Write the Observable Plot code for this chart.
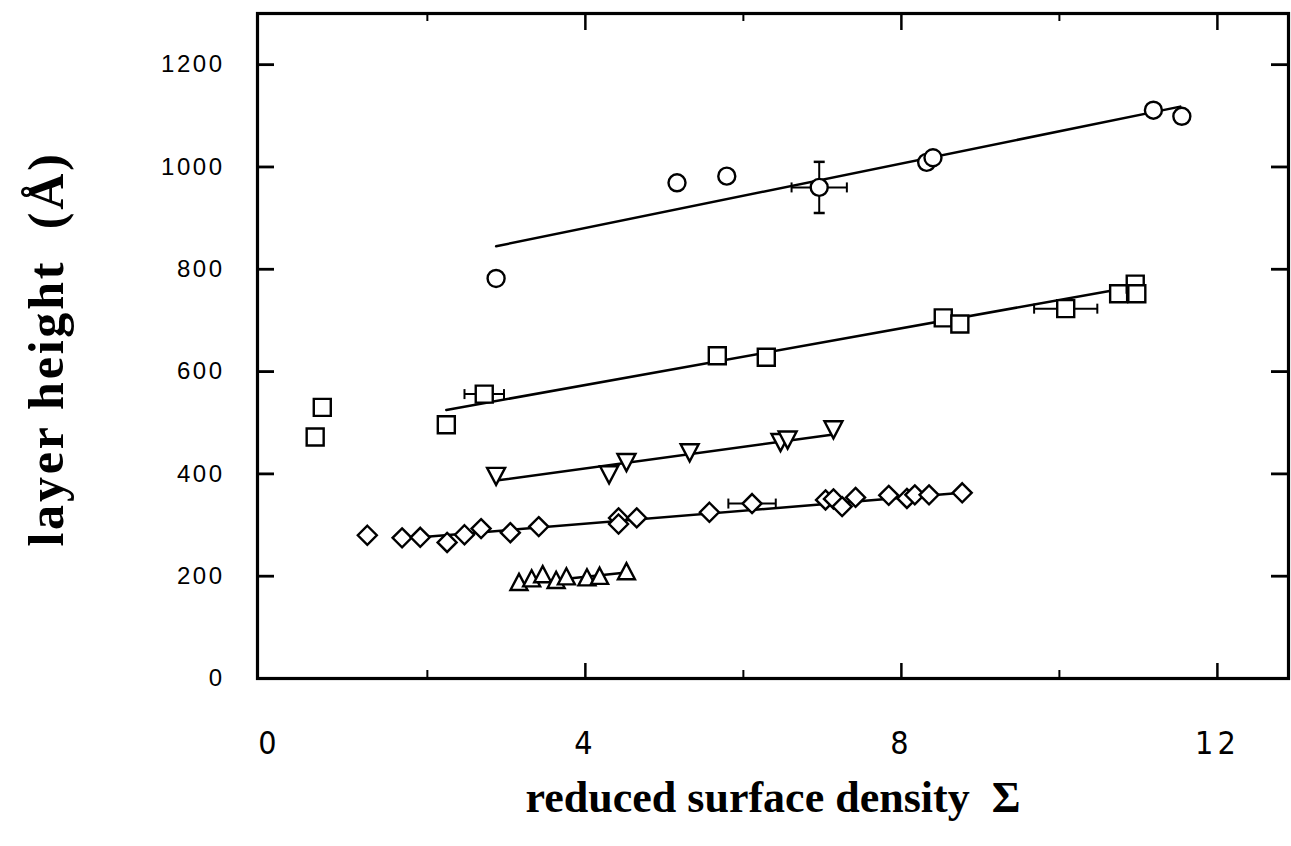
<!DOCTYPE html>
<html><head><meta charset="utf-8">
<script src="https://cdn.jsdelivr.net/npm/d3@7"></script>
<script src="https://cdn.jsdelivr.net/npm/@observablehq/plot@0.6"></script>
<style>
html,body{margin:0;padding:0;background:#fff;}
#chart svg{display:block;}
#chart svg [aria-label="y-axis tick label"]{font-size:24px;font-family:'Liberation Sans',Arial,sans-serif;}
#chart svg [aria-label="y-axis tick label"] text{letter-spacing:2.5px;}
#chart svg [aria-label="x-axis tick label"]{font-size:32px;font-family:'Liberation Sans Narrow','Arial Narrow','DejaVu Sans Condensed',sans-serif;}
#chart svg [aria-label="x-axis tick label"] text{letter-spacing:4px;}
</style>
</head><body><div id="chart"></div>
<script>
// ---- data ----
const circleX = [2.87, 5.16, 5.79, 6.96, 8.32, 8.40, 11.19, 11.55];
const circleY = [782, 969, 982, 960, 1009, 1018, 1111, 1099];
const circleFitX = [2.87, 11.53];
const circleFitY = [845, 1118];

const squareX = [0.58, 0.67, 2.24, 2.72, 5.67, 6.29, 8.53, 8.74, 10.08, 10.75, 10.96, 10.98];
const squareY = [472, 530, 496, 556, 631, 628, 705, 693, 723, 752, 771, 752];
const squareFitX = [2.24, 10.9];
const squareFitY = [525, 765];

const triDownX = [2.87, 4.30, 4.52, 5.32, 6.47, 6.56, 7.14];
const triDownY = [396, 399, 423, 442, 462, 467, 487];
const triDownFitX = [2.87, 7.14];
const triDownFitY = [387, 477];

const diamondX = [1.24, 1.68, 1.91, 2.25, 2.47, 2.68, 3.05, 3.41, 4.42, 4.42, 4.65, 5.57, 6.11, 7.04, 7.14, 7.25, 7.42, 7.84, 8.07, 8.17, 8.35, 8.77];
const diamondY = [280, 275, 276, 266, 281, 293, 285, 297, 314, 302, 314, 325, 342, 349, 351, 336, 354, 358, 352, 359, 359, 363];
const diamondFitX = [1.91, 8.77];
const diamondFitY = [276, 363];

const triUpX = [3.16, 3.32, 3.46, 3.63, 3.76, 4.02, 4.18, 4.52];
const triUpY = [188, 195, 203, 192, 199, 197, 200, 209];
const triUpFitX = [3.16, 4.52];
const triUpFitY = [185, 207];

// error bars: centre and half-widths
const errX  = [6.96, 2.72, 10.08, 6.11];
const errY  = [960, 556, 723, 342];
const errDX = [0.35, 0.25, 0.4, 0.3];
const errDY = [50, 0, 0, 0];

const xTickLabels = [0, 4, 8, 12];
const xMajorTicks = [4, 8, 12];
const xMinorTicks = [2, 6, 10];
const yTickLabels = [0, 200, 400, 600, 800, 1000, 1200];
const yTicks = [200, 400, 600, 800, 1000, 1200];

const xTitle = "reduced surface density  Σ";
const yTitle = "layer height  (Å)";

// ---- build tables ----
const pts = (xs, ys) => xs.map((x, i) => ({x, y: ys[i]}));
const circles = pts(circleX, circleY);
const squares = pts(squareX, squareY);
const triDowns = pts(triDownX, triDownY);
const diamonds = pts(diamondX, diamondY);
const triUps = pts(triUpX, triUpY);
const fits = [
  pts(circleFitX, circleFitY), pts(squareFitX, squareFitY), pts(triDownFitX, triDownFitY),
  pts(diamondFitX, diamondFitY), pts(triUpFitX, triUpFitY)
];
const errs = errX.map((x, i) => ({x, y: errY[i], dx: errDX[i], dy: errDY[i]}));
const vErr = errs.filter(d => d.dy > 0);
const hErr = errs.filter(d => d.dx > 0);

// ---- custom symbols (pixel sized) ----
const sym = f => ({draw(ctx, size) { f(ctx, Math.sqrt(size / Math.PI)); }});
const circleSym = sym((c, h) => { c.moveTo(h, 0); c.arc(0, 0, h, 0, 2 * Math.PI); });
const squareSym = sym((c, h) => { c.rect(-h, -h, 2 * h, 2 * h); });
const diamondSym = sym((c, h) => { c.moveTo(0, -h); c.lineTo(h, 0); c.lineTo(0, h); c.lineTo(-h, 0); c.closePath(); });
const triUpSym = sym((c, h) => { c.moveTo(0, -h); c.lineTo(h, h * 0.9); c.lineTo(-h, h * 0.9); c.closePath(); });
const triDownSym = sym((c, h) => { c.moveTo(0, h); c.lineTo(h, -h * 0.9); c.lineTo(-h, -h * 0.9); c.closePath(); });
const hCap = sym((c, h) => { c.moveTo(-h, 0); c.lineTo(h, 0); });
const vCap = sym((c, h) => { c.moveTo(0, -h); c.lineTo(0, h); });

const W = 1291, H = 846, ML = 257, MR = 3, MT = 13, MB = 168;
const FW = W - ML - MR, FH = H - MT - MB;
const serif = "'Liberation Serif', 'Times New Roman', serif";
const mk = {stroke: "black", strokeWidth: 2.4, fill: "white"};

const chart = Plot.plot({
  width: W, height: H,
  marginLeft: ML, marginRight: MR, marginTop: MT, marginBottom: MB,
  x: {domain: [-0.15, 12.9]},
  y: {domain: [0, 1300]},
  style: {background: "white", color: "black"},
  marks: [
    Plot.frame({strokeWidth: 3.2}),
    // inward ticks
    Plot.ruleY(yTicks, {y: d => d, insetRight: FW - 17, strokeWidth: 2.8}),
    Plot.ruleY(yTicks, {y: d => d, insetLeft: FW - 17, strokeWidth: 2.8}),
    Plot.ruleX(xMajorTicks, {x: d => d, insetTop: FH - 15, strokeWidth: 2.5}),
    Plot.ruleX(xMinorTicks, {x: d => d, insetTop: FH - 8, strokeWidth: 2}),
    Plot.ruleX(xMajorTicks, {x: d => d, insetBottom: FH - 17, strokeWidth: 2.5}),
    Plot.ruleX(xMinorTicks, {x: d => d, insetBottom: FH - 8, strokeWidth: 2}),
    // tick labels
    Plot.axisY(yTickLabels, {anchor: "left", tickSize: 0, tickPadding: 33, fontSize: 24,
      tickFormat: d => String(d), label: null}),
    Plot.axisX(xTickLabels, {anchor: "bottom", tickSize: 0, tickPadding: 53, fontSize: 32,
      tickFormat: d => String(d), label: null}),
    // titles
    Plot.text([xTitle], {frameAnchor: "bottom", dy: 119, text: d => d, fontSize: 44,
      fontWeight: "bold", fontFamily: serif, lineAnchor: "middle", textAnchor: "middle"}),
    Plot.text([yTitle], {frameAnchor: "left", dx: -211, dy: 3, text: d => d, fontSize: 50,
      fontWeight: "bold", fontFamily: serif, rotate: -90, lineAnchor: "middle", textAnchor: "middle"}),
    // fit lines
    ...fits.map(f => Plot.line(f, {x: "x", y: "y", stroke: "black", strokeWidth: 2.5})),
    // error bars
    Plot.link(vErr, {x1: "x", x2: "x", y1: d => d.y - d.dy, y2: d => d.y + d.dy, stroke: "black", strokeWidth: 2}),
    Plot.dot(vErr, {x: "x", y: d => d.y - d.dy, symbol: hCap, r: 5.5, stroke: "black", strokeWidth: 2.5, fill: "none"}),
    Plot.dot(vErr, {x: "x", y: d => d.y + d.dy, symbol: hCap, r: 5.5, stroke: "black", strokeWidth: 2.5, fill: "none"}),
    Plot.link(hErr, {y1: "y", y2: "y", x1: d => d.x - d.dx, x2: d => d.x + d.dx, stroke: "black", strokeWidth: 2}),
    Plot.dot(hErr, {y: "y", x: d => d.x - d.dx, symbol: vCap, r: 5, stroke: "black", strokeWidth: 2, fill: "none"}),
    Plot.dot(hErr, {y: "y", x: d => d.x + d.dx, symbol: vCap, r: 5, stroke: "black", strokeWidth: 2, fill: "none"}),
    // markers
    Plot.dot(circles, {x: "x", y: "y", symbol: circleSym, r: 8.5, ...mk}),
    Plot.dot(squares, {x: "x", y: "y", symbol: squareSym, r: 8.5, ...mk}),
    Plot.dot(triDowns, {x: "x", y: "y", symbol: triDownSym, r: 9, ...mk}),
    Plot.dot(diamonds, {x: "x", y: "y", symbol: diamondSym, r: 9.5, ...mk}),
    Plot.dot(triUps, {x: "x", y: "y", symbol: triUpSym, r: 8.5, ...mk})
  ]
});
// widen the letter spacing of the vertical title, as in the reference
d3.select(chart).selectAll("text")
  .filter(function() { return this.textContent === yTitle; })
  .style("letter-spacing", "2.8px");
document.getElementById("chart").appendChild(chart);
</script></body></html>
